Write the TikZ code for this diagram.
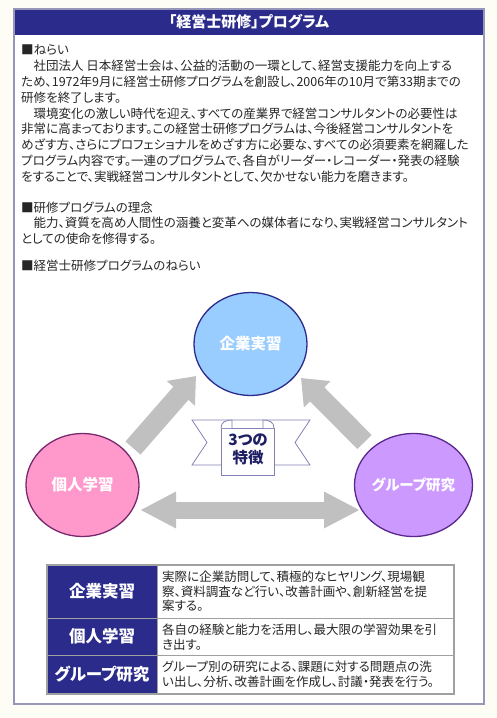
\documentclass[tikz,border=0pt]{standalone}
\usepackage{fontspec}
\setmainfont{Noto Sans CJK JP}[RawFeature=+palt]
\usetikzlibrary{shapes.geometric,arrows.meta}
\definecolor{navy}{RGB}{43,43,140}
\definecolor{framec}{RGB}{150,150,185}
\definecolor{creambg}{RGB}{254,253,245}
\definecolor{arrowgray}{RGB}{192,192,192}
\definecolor{ribbonc}{RGB}{130,130,180}
\definecolor{ribbontext}{RGB}{30,30,100}
\definecolor{cblue}{RGB}{153,204,255}
\definecolor{cpink}{RGB}{255,153,204}
\definecolor{cviolet}{RGB}{204,153,255}
\definecolor{tablegray}{RGB}{160,160,160}
\begin{document}
\begin{tikzpicture}[x=1pt,y=-1pt,
  bodytext/.style={anchor=west,inner sep=0pt,font=\fontsize{12.5}{15}\selectfont,text=black!85},
  circ/.style={ellipse,minimum width=113pt,minimum height=103pt,inner sep=0pt,line width=1.3pt,text=white,font=\fontsize{15.5}{18}\selectfont\bfseries},
  bigarrow/.style={draw=arrowgray,line width=20pt,-{Triangle[width=36pt,length=23pt]}},
  dblarrow/.style={draw=arrowgray,line width=17pt,{Triangle[width=34pt,length=36pt]}-{Triangle[width=34pt,length=36pt]}},
  labelcell/.style={fill=navy,text=white,font=\fontsize{16.5}{19}\selectfont\bfseries,inner sep=0pt},
  desctext/.style={anchor=west,align=left,inner sep=0pt,font=\fontsize{12.5}{14.5}\selectfont,text=black!85},
  ribbonline/.style={draw=ribbonc,line width=0.8pt,fill=white}
]
\useasboundingbox (0,0) rectangle (497,718);
\fill[creambg] (0,0) rectangle (497,718);
% frame
\fill[white] (14,9) rectangle (484,704);
\fill[navy] (14,9) rectangle (484,35);
\draw[framec,line width=1.3pt] (14,9) rectangle (484,704);
\node[text=white,font=\fontsize{15}{18}\selectfont\bfseries,inner sep=0pt] (title) at (249,22) {「経営士研修」プログラム};

% body text
\node[bodytext] (t1) at (21,50) {■ねらい};
\node[bodytext] (t2) at (21,65.85) {　社団法人 日本経営士会は、公益的活動の一環として、経営支援能力を向上する};
\node[bodytext] (t3) at (21,81.7) {ため、1972年9月に経営士研修プログラムを創設し、2006年の10月で第33期までの};
\node[bodytext] (t4) at (21,97.55) {研修を終了します。};
\node[bodytext] (t5) at (21,113.4) {　環境変化の激しい時代を迎え、すべての産業界で経営コンサルタントの必要性は};
\node[bodytext] (t6) at (21,129.25) {非常に高まっております。この経営士研修プログラムは、今後経営コンサルタントを};
\node[bodytext] (t7) at (21,145.1) {めざす方、さらにプロフェショナルをめざす方に必要な、すべての必須要素を網羅した};
\node[bodytext] (t8) at (21,160.95) {プログラム内容です。一連のプログラムで、各自がリーダー・レコーダー・発表の経験};
\node[bodytext] (t9) at (21,176.8) {をすることで、実戦経営コンサルタントとして、欠かせない能力を磨きます。};
\node[bodytext] (t10) at (21,207.5) {■研修プログラムの理念};
\node[bodytext] (t11) at (21,223) {　能力、資質を高め人間性の涵養と変革への媒体者になり、実戦経営コンサルタント};
\node[bodytext] (t12) at (21,238.5) {としての使命を修得する。};
\node[bodytext] (t13) at (21,266) {■経営士研修プログラムのねらい};

% circles
\node[circ,fill=cblue,draw=navy] (kigyo) at (250.5,344) {企業実習};
\node[circ,fill=cpink,draw={rgb,255:red,120;green,40;blue,110}] (kojin) at (82.5,485) {個人学習};
\node[circ,fill=cviolet,draw={rgb,255:red,90;green,40;blue,140},font=\fontsize{14.5}{18}\selectfont\bfseries] (group) at (413.5,485) {グループ研究};

% arrows
\coordinate (a1s) at (133,448);
\coordinate (a1e) at (196,376);
\coordinate (a2s) at (364.5,442);
\coordinate (a2e) at (301,378);
\coordinate (a3s) at (140,510);
\coordinate (a3e) at (360,510);
\draw[bigarrow] (a1s) -- (a1e);
\draw[bigarrow] (a2s) -- (a2e);
\draw[dblarrow] (a3s) -- (a3e);

% ribbon
\draw[ribbonline] (192,420) -- (310,420) -- (295,442.5) -- (310,465) -- (192,465) -- (207,442.5) -- cycle;
\draw[ribbonline] (221,428) rectangle (274,475);
\draw[ribbonline] (221,428) .. controls (221,422) and (226,420) .. (232,420) -- (232,428);
\draw[ribbonline] (274,428) .. controls (274,422) and (269,420) .. (263,420) -- (263,428);
\node[align=center,inner sep=0pt,text=ribbontext,font=\fontsize{15.5}{18}\selectfont\bfseries] (feat) at (248,449) {3つの\\特徴};

% table
\fill[white] (47,565) rectangle (454,694);
\node[labelcell,minimum width=110pt,minimum height=53pt] (l1) at (102,591.5) {企業実習};
\node[labelcell,minimum width=110pt,minimum height=37pt] (l2) at (102,636.5) {個人学習};
\node[labelcell,minimum width=110pt,minimum height=39pt] (l3) at (102,674.5) {グループ研究};
\draw[tablegray,line width=1pt] (157,565) -- (157,694) (47,618) -- (454,618) (47,655) -- (454,655);
\draw[tablegray,line width=2.5pt] (47,565) rectangle (454,694);
\node[desctext] (d1) at (162,591.5) {実際に企業訪問して、積極的なヒヤリング、現場観\\察、資料調査など行い、改善計画や、創新経営を提\\案する。};
\node[desctext] (d2) at (162,637) {各自の経験と能力を活用し、最大限の学習効果を引\\き出す。};
\node[desctext] (d3) at (162,674.5) {グループ別の研究による、課題に対する問題点の洗\\い出し、分析、改善計画を作成し、討議・発表を行う。};
\end{tikzpicture}
\end{document}
